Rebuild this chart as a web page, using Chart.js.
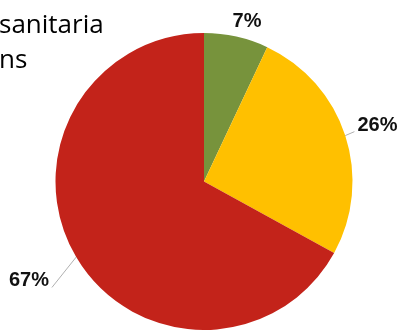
<!DOCTYPE html>
<html>
<head>
<meta charset="utf-8">
<script src="https://cdn.jsdelivr.net/npm/chart.js@4"></script>
<style>
  html, body { margin: 0; padding: 0; background: #fff; }
  #wrap { position: relative; width: 403px; height: 330px; overflow: hidden; }
  #pie { position: absolute; left: 0; top: 0; }
  .ttl { position: absolute; left: -1px; font-family: "Open Sans", sans-serif; font-size: 26px; color: #000; line-height: 1; white-space: nowrap; }
</style>
</head>
<body>
<div id="wrap">
  <canvas id="pie" width="403" height="330"></canvas>
  <div class="ttl" style="top:10px">sanitaria</div>
  <div class="ttl" style="top:45px">ns</div>
</div>
<script>
var shares = [7, 26, 67];
var shareLabels = ["7%", "26%", "67%"];
var sliceColors = ["#77933C", "#FFC000", "#C3231A"];

// where each label sits: distance (x radius) and angle shift (deg), leader or not
var labelDist = [1.118, 1.228, 1.356];
var labelShift = [2.4, 0, 1];
var labelLine = [false, true, true];

var pctLabels = {
  id: "pctLabels",
  afterDatasetsDraw: function(chart) {
    var ctx = chart.ctx;
    var arcs = chart.getDatasetMeta(0).data;
    ctx.save();
    ctx.font = "bold 20px 'Liberation Sans', Arial, sans-serif";
    ctx.textBaseline = "middle";
    arcs.forEach(function(arc, i) {
      var r = arc.outerRadius;
      var a = (arc.startAngle + arc.endAngle) / 2;
      var b = a + labelShift[i] * Math.PI / 180;
      var tx = arc.x + Math.cos(b) * r * labelDist[i];
      var ty = arc.y + Math.sin(b) * r * labelDist[i];
      var txt = shareLabels[i];
      var w = ctx.measureText(txt).width;
      if (labelLine[i]) {
        var right = Math.cos(a) > 0;
        var ex = right ? tx - w / 2 - 3 : tx + w / 2 + 3;
        ctx.strokeStyle = "#b0b0b0";
        ctx.lineWidth = 1;
        ctx.beginPath();
        ctx.moveTo(arc.x + Math.cos(a) * r, arc.y + Math.sin(a) * r);
        ctx.lineTo(ex, ty + 6.5);
        ctx.stroke();
      }
      ctx.fillStyle = "#111";
      ctx.textAlign = "center";
      ctx.fillText(txt, tx, ty);
    });
    ctx.restore();
  }
};

new Chart("pie", {
  type: "pie",
  data: {
    labels: shareLabels,
    datasets: [{
      data: shares,
      backgroundColor: sliceColors,
      borderWidth: 0
    }]
  },
  options: {
    responsive: false,
    animation: false,
    events: [],
    layout: { padding: { left: 55, right: 50, top: 33, bottom: 0 } },
    plugins: {
      legend: { display: false },
      tooltip: { enabled: false },
      title: { display: false }
    }
  },
  plugins: [pctLabels]
});
</script>
</body>
</html>
